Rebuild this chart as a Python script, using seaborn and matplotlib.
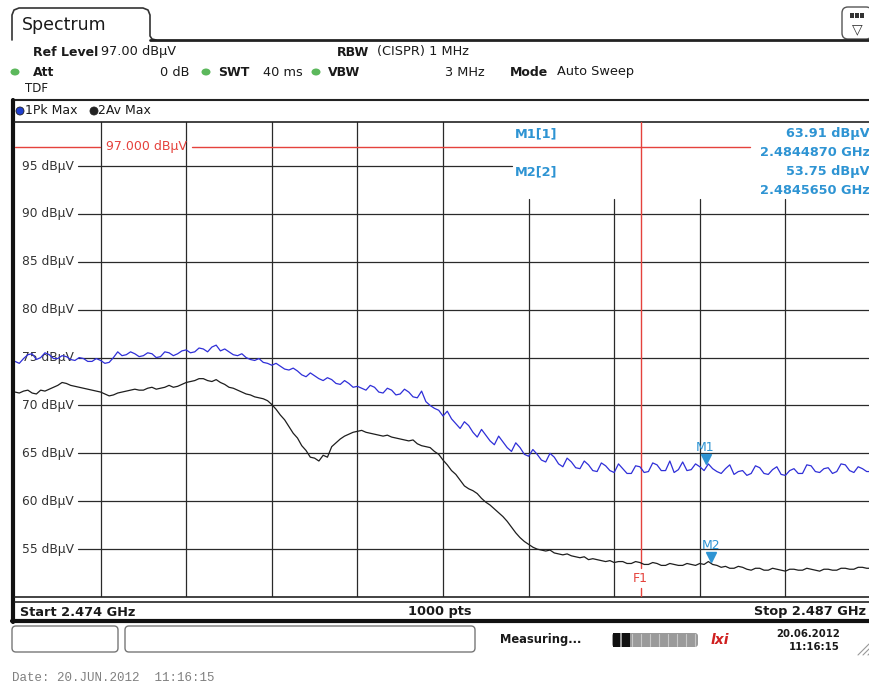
import numpy as np
import pandas as pd
import matplotlib.pyplot as plt
import matplotlib.transforms as mtrans
from matplotlib.patches import FancyBboxPatch, Rectangle, Ellipse, Circle
import seaborn as sns

# sweep settings (from the instrument header)
f_start = 2.474   # GHz
f_stop = 2.487    # GHz
sweep_pts = 1000
ref_level = 97.0
y_bottom, y_top = 50.0, 99.6

# trace 1: Pk Max (blue)
pk_max = [74.6, 74.4, 74.9, 75.3, 75.4, 74.8, 75.0, 75.5, 75.3, 74.9,
          74.9, 75.2, 75.1, 74.8, 74.7, 75.0, 74.9, 74.6, 74.6, 74.9,
          74.7, 74.4, 74.5, 75.0, 75.6, 75.2, 75.3, 75.6, 75.4, 75.1,
          75.2, 75.5, 75.4, 75.0, 75.1, 75.6, 75.5, 75.2, 75.4, 75.7,
          75.8, 75.5, 75.6, 76.0, 75.9, 75.6, 76.1, 76.3, 75.7, 75.9,
          75.6, 75.3, 75.2, 75.4, 75.0, 74.8, 74.7, 74.9, 74.5, 74.4,
          74.2, 74.4, 74.1, 73.8, 73.7, 73.9, 73.6, 73.2, 73.0, 73.4,
          73.1, 72.8, 72.6, 72.9, 72.7, 72.3, 72.2, 72.6, 72.3, 71.9,
          72.0, 71.8, 71.6, 72.1, 71.9, 71.4, 71.3, 71.8, 71.6, 71.1,
          71.2, 71.7, 71.4, 70.9, 70.8, 71.5, 70.4, 70.0, 69.7, 69.5,
          68.9, 69.4, 68.6, 68.1, 67.6, 68.3, 67.9, 67.2, 66.7, 67.5,
          66.9, 66.3, 65.9, 66.8, 66.2, 65.6, 65.2, 66.1, 65.6, 64.9,
          64.7, 65.4, 64.9, 64.3, 64.1, 65.0, 64.6, 63.9, 63.6, 64.5,
          64.1, 63.5, 63.4, 64.2, 63.8, 63.2, 63.1, 64.0, 63.7, 63.2,
          63.0, 63.9, 63.4, 62.9, 62.9, 63.7, 63.6, 63.0, 63.1, 64.0,
          63.8, 63.2, 63.2, 64.2, 63.0, 63.3, 64.1, 63.2, 63.3, 63.9,
          63.6, 63.2, 63.9, 63.4, 63.1, 62.9, 63.4, 63.8, 62.8, 63.1,
          63.2, 62.7, 62.9, 63.7, 63.5, 62.9, 62.8, 63.3, 63.6, 62.8,
          62.7, 63.2, 63.4, 62.9, 62.9, 63.8, 63.7, 63.1, 63.0, 63.4,
          63.5, 62.9, 63.1, 63.9, 63.8, 63.2, 63.0, 63.6, 63.4, 63.1,
          63.1]

# trace 2: Av Max (black)
av_max = [71.4, 71.3, 71.5, 71.6, 71.3, 71.2, 71.6, 71.5, 71.7, 71.9,
          72.1, 72.4, 72.3, 72.1, 72.0, 71.9, 71.8, 71.7, 71.6, 71.5,
          71.4, 71.2, 71.0, 71.1, 71.3, 71.4, 71.5, 71.6, 71.7, 71.6,
          71.6, 71.8, 71.9, 71.7, 71.8, 71.9, 72.1, 71.9, 72.0, 72.2,
          72.4, 72.5, 72.6, 72.8, 72.8, 72.6, 72.5, 72.7, 72.4, 72.2,
          71.9, 71.8, 71.6, 71.4, 71.2, 71.1, 70.9, 70.8, 70.7, 70.5,
          70.1, 69.6, 69.0, 68.5, 67.8, 67.1, 66.6, 65.8, 65.3, 64.6,
          64.5, 64.2, 64.8, 64.6, 65.7, 66.1, 66.5, 66.8, 67.0, 67.2,
          67.3, 67.4, 67.2, 67.1, 67.0, 66.9, 66.8, 66.9, 66.7, 66.6,
          66.5, 66.4, 66.3, 66.4, 66.0, 65.8, 65.7, 65.6, 65.2, 64.9,
          64.3, 63.8, 63.2, 62.8, 62.2, 61.6, 61.3, 61.1, 60.8, 60.3,
          59.9, 59.6, 59.2, 58.8, 58.4, 57.9, 57.3, 56.7, 56.2, 55.8,
          55.5, 55.2, 55.0, 54.9, 54.8, 54.9, 54.6, 54.5, 54.4, 54.5,
          54.3, 54.2, 54.1, 54.2, 53.9, 54.0, 53.9, 53.8, 53.7, 53.8,
          53.6, 53.7, 53.7, 53.5, 53.5, 53.7, 53.6, 53.4, 53.4, 53.6,
          53.5, 53.3, 53.3, 53.5, 53.4, 53.3, 53.3, 53.5, 53.4, 53.3,
          53.5, 53.4, 53.7, 53.4, 53.3, 53.1, 53.2, 53.0, 53.0, 53.2,
          53.1, 52.9, 52.8, 53.0, 53.0, 52.8, 52.8, 53.0, 52.9, 52.8,
          52.7, 52.9, 52.9, 52.8, 52.8, 53.0, 52.9, 52.8, 52.7, 52.9,
          52.9, 52.8, 52.8, 53.0, 53.0, 52.9, 52.9, 53.1, 53.1, 53.0,
          53.0]

y_ticks = [95, 90, 85, 80, 75, 70, 65, 60, 55]
f1_freq = 2.4835
m1_freq, m1_level = 2.4844870, 63.91
m2_freq, m2_level = 2.4845650, 53.75

n = len(pk_max)
freq = np.linspace(f_start, f_stop, n)
df = pd.DataFrame({
    "freq": np.concatenate([freq, np.linspace(f_start, f_stop, len(av_max))]),
    "level": pk_max + av_max,
    "trace": ["1Pk Max"] * n + ["2Av Max"] * len(av_max),
})

sns.set_style("white")
plt.rcParams['font.family'] = ['DejaVu Sans']

W, H = 869, 688
fig = plt.figure(figsize=(W / 100, H / 100), dpi=100)

# background axes in pixel coordinates for the instrument frame
bg = fig.add_axes([0, 0, 1, 1], zorder=0)
bg.set_xlim(0, W)
bg.set_ylim(H, 0)
bg.axis("off")

# main diagram: x 15..871 px, y 122..597 px
ax = fig.add_axes([15 / W, 1 - 597 / H, 856 / W, (597 - 122) / H], zorder=2)
ax.patch.set_visible(False)
ax.set_xlim(f_start, f_stop)
ax.set_ylim(y_bottom, y_top)
ax.set_xticks([])
ax.set_yticks([])
for s in ["left", "right"]:
    ax.spines[s].set_visible(False)
for s in ["top", "bottom"]:
    ax.spines[s].set_linewidth(1.2)
    ax.spines[s].set_color("#222")

gcol = "#2a2a2a"
# horizontal grid with inline level labels
for v in y_ticks:
    xmax = 0.5806 if v == 95 else 1.0
    ax.axhline(v, xmin=0.0736, xmax=xmax, color=gcol, lw=0.9, zorder=1)
    ax.text(0.008, v, f"{v} dBµV", transform=ax.get_yaxis_transform(),
            va="center", ha="left", fontsize=8.8, color="#333", zorder=1)

# vertical grid, 10 divisions
span = f_stop - f_start
for k in range(1, 10):
    fx = f_start + span * k / 10
    ymax = 0.838 if k >= 6 else 1.0
    ax.axvline(fx, ymin=0, ymax=ymax, color=gcol, lw=0.9, zorder=1)

# reference level line
red = "#e5423c"
ax.axhline(ref_level, xmin=0, xmax=0.0993, color=red, lw=1.0, zorder=1)
ax.axhline(ref_level, xmin=0.207, xmax=0.859, color=red, lw=1.0, zorder=1)
ax.text(0.153, ref_level, f"{ref_level:.3f} dBµV", transform=ax.get_yaxis_transform(),
        ha="center", va="center", fontsize=9, color=red)

# F1 frequency line
ax.axvline(f1_freq, ymin=0.061, ymax=1.0, color=red, lw=1.0, zorder=3)
ax.axvline(f1_freq, ymin=0.0, ymax=0.019, color=red, lw=1.0, zorder=3)
ax.text(f1_freq, 51.95, "F1", ha="center", va="center", fontsize=9, color=red)

# traces
sns.lineplot(data=df, x="freq", y="level", hue="trace",
             palette={"1Pk Max": "#2f2fd8", "2Av Max": "#1e1e1e"},
             lw=0.9, legend=False, ax=ax, zorder=4)
ax.set_xlabel("")
ax.set_ylabel("")

# markers
mcol = "#2e94d3"
up5 = ax.transData + mtrans.ScaledTranslation(0, 5 / 100, fig.dpi_scale_trans)
up4 = ax.transData + mtrans.ScaledTranslation(0, 4 / 100, fig.dpi_scale_trans)
ax.plot([m1_freq], [m1_level], marker="v", ms=7, color=mcol, transform=up5, zorder=5)
ax.plot([m2_freq], [m2_level], marker="v", ms=7, color=mcol, transform=up4, zorder=5)
ax.annotate("M1", (m1_freq, m1_level), xytext=(0, 12), textcoords="offset points",
            ha="center", va="center", fontsize=9, color=mcol, zorder=5)
ax.annotate("M2", (m2_freq, m2_level), xytext=(0, 11), textcoords="offset points",
            ha="center", va="center", fontsize=9, color=mcol, zorder=5)


def T(x, y, s, **kw):
    kw.setdefault("fontsize", 9.3)
    kw.setdefault("va", "center")
    kw.setdefault("color", "#1a1a1a")
    bg.text(x, y, s, **kw)


# marker table
T(515, 134, "M1[1]", color=mcol, fontweight="bold")
T(515, 172, "M2[2]", color=mcol, fontweight="bold")
T(870, 133, f"{m1_level:.2f} dBµV", color=mcol, fontweight="bold", ha="right")
T(870, 152, f"{m1_freq:.7f} GHz", color=mcol, fontweight="bold", ha="right")
T(870, 172, f"{m2_level:.2f} dBµV", color=mcol, fontweight="bold", ha="right")
T(870, 190, f"{m2_freq:.7f} GHz", color=mcol, fontweight="bold", ha="right")

# tab and header frame
tab_x = [12, 12, 14, 19, 143, 148, 150, 150, 152, 156]
tab_y = [40, 15, 10, 8, 8, 10, 15, 36, 39, 40]
bg.plot(tab_x, tab_y, color="#333", lw=1.2)
bg.plot([150, W], [40, 40], color="#222", lw=2.0)
bg.plot([12, W], [100, 100], color="#222", lw=1.5)
T(22, 25, "Spectrum", fontsize=12.5)

# icon top right
bg.add_patch(FancyBboxPatch((842, 7), 30, 32, boxstyle="round,pad=0,rounding_size=6",
                            fc="white", ec="#555", lw=1.0))
for sx in [850, 855, 860]:
    bg.add_patch(Rectangle((sx, 13), 4, 5, fc="#333", ec="none"))
T(857, 29, "▽", fontsize=10, ha="center", color="#333")

# header rows
green = "#5cb85c"
T(33, 52, "Ref Level", fontweight="bold", fontsize=9)
T(101, 52, "97.00 dBµV")
T(337, 52, "RBW", fontweight="bold", fontsize=9)
T(377, 52, "(CISPR) 1 MHz")
for gx in [15, 206, 316]:
    bg.add_patch(Ellipse((gx, 72), 9, 7, fc=green, ec="none"))
T(33, 72, "Att", fontweight="bold", fontsize=9)
T(189, 72, "0 dB", ha="right")
T(218, 72, "SWT", fontweight="bold", fontsize=9)
T(263, 72, "40 ms")
T(328, 72, "VBW", fontweight="bold", fontsize=9)
T(445, 72, "3 MHz")
T(510, 72, "Mode", fontweight="bold", fontsize=9)
T(557, 72, "Auto Sweep")
T(25, 89, "TDF", fontsize=8.5)

# trace legend bar
bg.add_patch(Circle((20, 111), 4, fc="#1f3fd0", ec="#222", lw=0.6))
T(25, 111, "1Pk Max", fontsize=9)
bg.add_patch(Circle((94, 111), 4, fc="#222", ec="#222", lw=0.6))
T(98, 111, "2Av Max", fontsize=9)

# diagram border and bottom bar
bg.plot([13, 13], [100, 622], color="#111", lw=3)
bg.plot([15, W], [602, 602], color="#222", lw=1.2)
bg.plot([12, W], [621, 621], color="#111", lw=3)
T(20, 612, f"Start {f_start:.3f} GHz", fontweight="bold", fontsize=9.3)
T(440, 612, f"{sweep_pts} pts", fontweight="bold", fontsize=9.3, ha="center")
T(866, 612, f"Stop {f_stop:.3f} GHz", fontweight="bold", fontsize=9.3, ha="right")

# status bar
for x0, w0 in [(12, 106), (125, 350)]:
    bg.add_patch(FancyBboxPatch((x0, 626), w0, 26, boxstyle="round,pad=0,rounding_size=4",
                                fc="white", ec="#777", lw=1.0))
T(500, 640, "Measuring...", fontweight="bold", fontsize=8.3)
bg.add_patch(FancyBboxPatch((612, 633), 86, 14, boxstyle="round,pad=0,rounding_size=3",
                            fc="#9a9a9a", ec="none"))
bg.add_patch(Rectangle((613, 633), 7, 14, fc="#111", ec="none"))
bg.add_patch(Rectangle((622, 633), 8, 14, fc="#111", ec="none"))
for px in range(632, 698, 9):
    bg.plot([px, px], [634, 646], color="#c8c8c8", lw=0.8)
T(720, 640, "lxi", fontweight="bold", fontstyle="italic", fontsize=10, color="#d02020", ha="center")
T(840, 634, "20.06.2012", fontweight="bold", fontsize=7.3, ha="right")
T(840, 647, "11:16:15", fontweight="bold", fontsize=7.3, ha="right")
for d in [0, 5, 10]:
    bg.plot([858 + d, 869], [655, 644 + d], color="#999", lw=0.8)

# footer
bg.text(12, 678, "Date: 20.JUN.2012  11:16:15", fontsize=9, color="#808080",
        family="Liberation Mono", va="center")

fig.savefig("out.png", dpi=100)
